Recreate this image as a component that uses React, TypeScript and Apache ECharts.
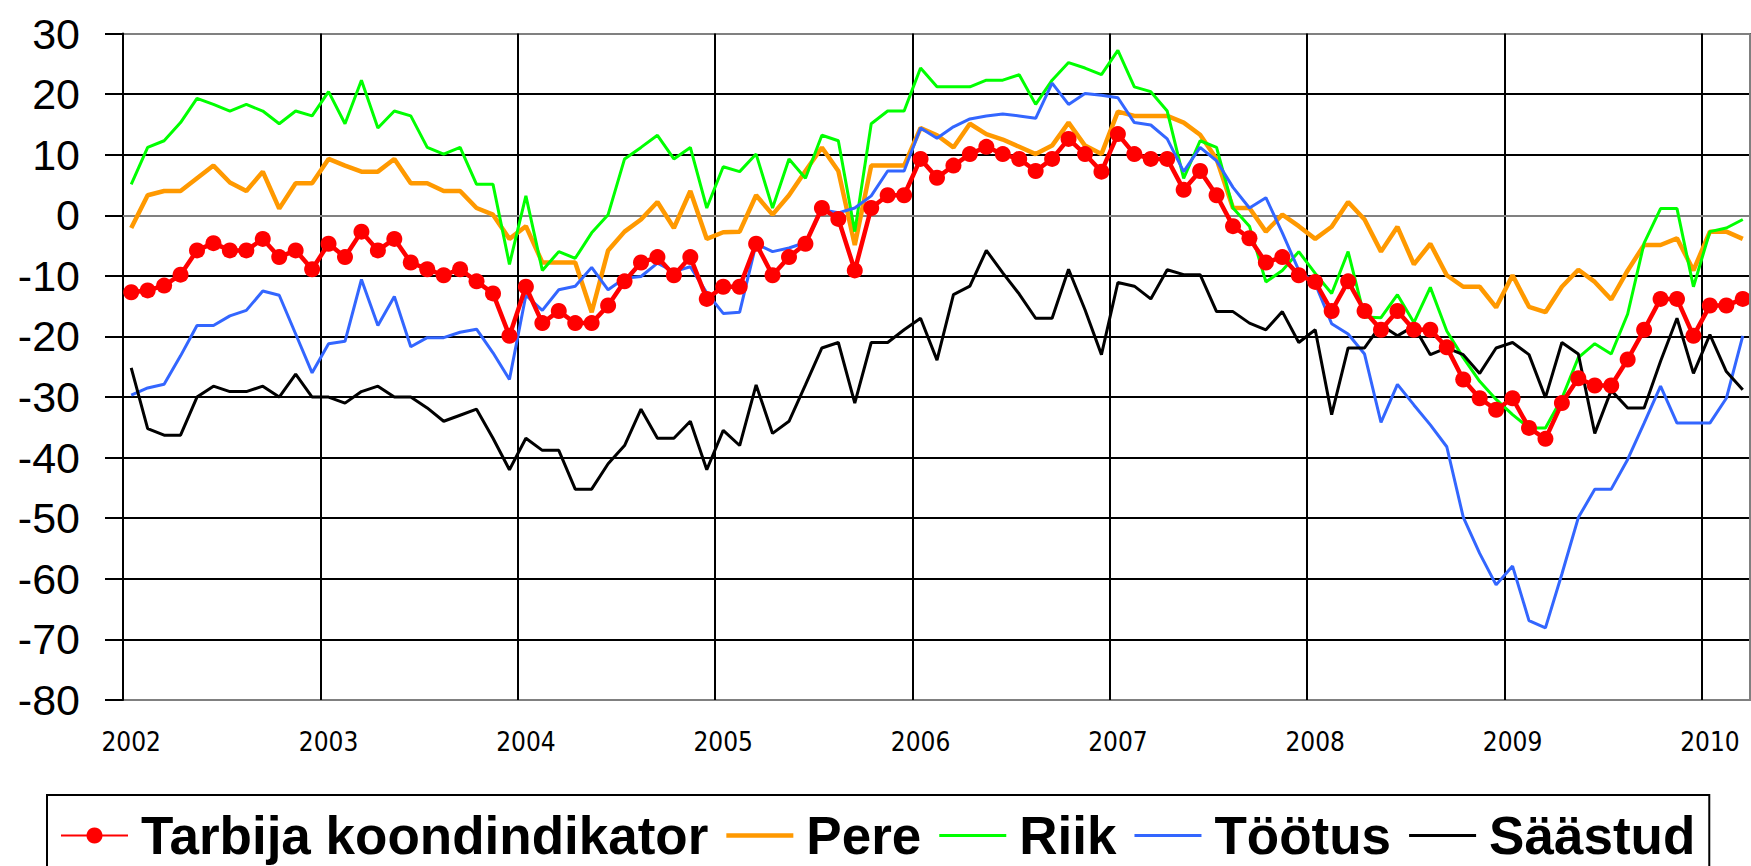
import React, { useEffect, useRef } from "react";
import * as echarts from "echarts";

const years = ["2002", "2003", "2004", "2005", "2006", "2007", "2008", "2009", "2010"];
const monthCount = 99;

const tarbija = [
  -12.7, -12.4, -11.6, -9.8, -5.8, -4.6, -5.8, -5.8, -3.9, -6.9, -5.8, -8.9,
  -4.7, -6.9, -2.7, -5.8, -3.9, -7.8, -8.9, -9.9, -8.9, -10.9, -12.9, -19.9,
  -11.8, -17.8, -15.8, -17.8, -17.8, -14.9, -10.9, -7.8, -6.9, -9.9, -6.9, -13.8,
  -11.8, -11.8, -4.7, -9.9, -6.9, -4.7, 1.2, -0.6, -9.1, 1.2, 3.3, 3.3,
  9.3, 6.2, 8.2, 10.1, 11.3, 10.1, 9.3, 7.3, 9.3, 12.6, 10.1, 7.2,
  13.4, 10.1, 9.3, 9.3, 4.2, 7.3, 3.3, -1.8, -3.8, -7.8, -6.9, -9.9,
  -11.0, -15.8, -10.9, -15.8, -18.9, -15.8, -18.9, -18.9, -21.8, -27.1, -30.2, -32.1,
  -30.2, -35.1, -36.9, -31.0, -26.9, -28.1, -28.1, -23.8, -18.9, -13.8, -13.8, -19.9,
  -14.9, -14.9, -13.8,
];

const pere = [
  -2.1, 3.3, 4.0, 4.0, 6.1, 8.2, 5.4, 4.0, 7.2, 1.1, 5.3, 5.3,
  9.3, 8.2, 7.2, 7.2, 9.3, 5.3, 5.3, 4.0, 4.0, 1.2, 0.1, -3.9,
  -1.8, -7.8, -7.8, -7.8, -16.0, -5.8, -2.7, -0.7, 2.2, -2.1, 4.0, -3.9,
  -2.8, -2.7, 3.3, 0.1, 3.3, 7.3, 11.2, 7.3, -4.9, 8.2, 8.2, 8.2,
  14.4, 13.2, 11.2, 15.1, 13.4, 12.5, 11.3, 10.1, 11.5, 15.3, 11.5, 10.1,
  17.1, 16.4, 16.4, 16.4, 15.3, 13.3, 9.3, 1.2, 1.2, -2.7, 0.1, -1.8,
  -3.9, -1.9, 2.2, -0.7, -6.0, -1.9, -8.1, -4.7, -9.9, -11.8, -11.8, -15.2,
  -9.9, -15.1, -16.0, -11.8, -9.0, -11.0, -13.9, -9.1, -4.9, -4.9, -3.8, -9.1,
  -2.7, -2.7, -3.9,
];

const riik = [
  5.1, 11.2, 12.3, 15.3, 19.3, 18.3, 17.2, 18.3, 17.2, 15.1, 17.2, 16.4,
  20.4, 15.1, 22.3, 14.4, 17.2, 16.4, 11.2, 10.1, 11.2, 5.1, 5.1, -8.1,
  3.2, -9.1, -6.0, -7.1, -2.9, 0.1, 9.3, 11.2, 13.2, 9.3, 11.2, 1.2,
  8.0, 7.2, 10.1, 1.2, 9.3, 6.1, 13.2, 12.3, -2.7, 15.1, 17.2, 17.2,
  24.3, 21.2, 21.2, 21.2, 22.3, 22.3, 23.2, 18.3, 22.3, 25.2, 24.3, 23.2,
  27.2, 21.2, 20.4, 17.2, 6.1, 12.3, 11.2, 1.2, -1.8, -11.0, -9.1, -6.0,
  -9.6, -12.9, -6.0, -16.8, -16.9, -13.1, -17.7, -11.9, -19.1, -23.5, -27.4, -30.4,
  -32.9, -35.1, -35.1, -30.2, -23.5, -21.2, -22.9, -16.3, -4.6, 1.1, 1.1, -11.8,
  -2.7, -2.1, -0.7,
];

const tootus = [
  -29.7, -28.5, -27.9, -23.2, -18.2, -18.2, -16.6, -15.7, -12.5, -13.2, -19.6, -26.0,
  -21.2, -20.8, -10.6, -18.2, -13.4, -21.7, -20.2, -20.2, -19.3, -18.8, -22.7, -27.1,
  -13.2, -15.7, -12.3, -11.7, -8.6, -12.3, -10.4, -10.1, -7.9, -9.3, -8.5, -12.8,
  -16.2, -16.0, -4.7, -6.0, -5.4, -4.5, 0.9, 0.4, 1.2, 3.2, 7.3, 7.3,
  14.4, 12.7, 14.6, 15.9, 16.4, 16.7, 16.4, 16.0, 21.8, 18.3, 20.1, 19.8,
  19.4, 15.3, 14.9, 12.6, 7.2, 11.2, 9.0, 4.6, 1.2, 2.9, -2.9, -9.1,
  -11.3, -17.9, -19.6, -22.9, -34.2, -27.9, -31.3, -34.6, -38.2, -49.8, -55.8, -61.0,
  -57.9, -66.9, -68.1, -59.2, -49.9, -45.2, -45.2, -40.3, -34.3, -28.2, -34.3, -34.3,
  -34.3, -30.2, -19.9,
];

const saastud = [
  -25.2, -35.2, -36.3, -36.3, -30.0, -28.2, -29.1, -29.1, -28.2, -30.0, -26.2, -30.0,
  -30.0, -31.0, -29.1, -28.2, -30.0, -30.0, -31.8, -34.0, -33.0, -32.0, -36.8, -42.0,
  -36.8, -38.8, -38.8, -45.2, -45.2, -41.0, -38.0, -32.0, -36.8, -36.8, -34.0, -42.0,
  -35.5, -38.0, -28.0, -36.0, -34.0, -28.0, -21.9, -21.0, -31.0, -21.0, -21.0, -18.9,
  -17.0, -23.9, -13.1, -11.7, -5.8, -9.5, -13.0, -17.0, -17.0, -8.9, -15.6, -23.0,
  -11.1, -11.7, -13.8, -9.0, -9.8, -9.8, -15.9, -15.9, -17.8, -18.9, -15.9, -21.0,
  -18.9, -32.9, -21.9, -21.9, -18.1, -19.9, -18.3, -23.0, -21.9, -23.0, -26.1, -21.9,
  -21.0, -23.0, -30.1, -21.0, -22.9, -36.0, -28.9, -31.8, -31.8, -24.1, -17.0, -26.1,
  -19.7, -25.8, -28.8,
];

const seriesNames = ["Tarbija koondindikator", "Pere", "Riik", "Töötus", "Säästud"];
const colors = ["#FF0000", "#FF9900", "#00FF00", "#3366FF", "#000000"];

const categories: string[] = [];
years.forEach((y) => {
  for (let m = 1; m <= 12; m++) {
    if (categories.length < monthCount) categories.push(`${y}-${m < 10 ? "0" + m : m}`);
  }
});

const ySplitColors = ["#808080", "#000", "#000", "#000", "#000", "#000", "#000", "#000", "#000", "#000", "#000", "#808080"];

export default function App() {
  const ref = useRef<HTMLDivElement>(null);
  useEffect(() => {
    const chart = echarts.init(ref.current as HTMLDivElement, null, { renderer: "svg" });
    const lineIcon = (h: number) => `path://M0,0L67,0L67,${h}L0,${h}Z`;
    chart.setOption({
      animation: false,
      backgroundColor: "#fff",
      grid: { left: 123, right: 0, top: 33.5, bottom: 166, containLabel: false },
      xAxis: {
        type: "category",
        data: categories,
        boundaryGap: true,
        axisLine: { show: true, lineStyle: { color: "#808080", width: 2 } },
        axisTick: { show: false },
        axisLabel: {
          interval: 11,
          margin: 29,
          color: "#000",
          fontSize: 26,
          fontFamily: "'Liberation Sans Narrow', 'DejaVu Sans Condensed', 'Liberation Sans', sans-serif",
          formatter: (v: string) => v.slice(0, 4),
        },
        splitLine: { show: true, interval: 11, lineStyle: { color: "#000", width: 2 } },
      },
      yAxis: {
        type: "value",
        min: -80,
        max: 30,
        interval: 10,
        axisLine: { show: true, lineStyle: { color: "#000", width: 2 } },
        axisTick: { show: true, inside: false, length: 18, lineStyle: { color: "#000", width: 2 } },
        axisLabel: { color: "#000", fontSize: 43, fontFamily: "'Liberation Sans', Arial, sans-serif", margin: 43 },
        splitLine: { show: true, lineStyle: { color: ySplitColors, width: 2 } },
      },
      legend: {
        left: 47,
        top: 795,
        orient: "horizontal",
        padding: [14, 14, 80, 13],
        borderColor: "#000",
        borderWidth: 2,
        itemWidth: 67,
        itemHeight: 20,
        itemGap: 18,
        textStyle: {
          fontSize: 53,
          fontWeight: "bold",
          color: "#000",
          fontFamily: "'Liberation Sans', Arial, sans-serif",
          padding: [0, 0, 0, 8],
        },
        data: [
          { name: seriesNames[0] },
          { name: seriesNames[1], icon: lineIcon(4.5) },
          { name: seriesNames[2], icon: lineIcon(3) },
          { name: seriesNames[3], icon: lineIcon(3) },
          { name: seriesNames[4], icon: lineIcon(3) },
        ],
      },
      graphic: [
        {
          type: "line",
          shape: { x1: 1750, y1: 33.5, x2: 1750, y2: 700 },
          style: { stroke: "#808080", lineWidth: 2 },
          z: 100,
        },
      ],
      series: [
        {
          name: seriesNames[0],
          type: "line",
          data: tarbija,
          z: 10,
          symbol: "circle",
          symbolSize: 16,
          showSymbol: true,
          showAllSymbol: true,
          itemStyle: { color: colors[0] },
          lineStyle: { color: colors[0], width: 4.5 },
        },
        {
          name: seriesNames[1],
          type: "line",
          data: pere,
          z: 3,
          symbol: "none",
          itemStyle: { color: colors[1] },
          lineStyle: { color: colors[1], width: 4.5 },
        },
        {
          name: seriesNames[2],
          type: "line",
          data: riik,
          z: 4,
          symbol: "none",
          itemStyle: { color: colors[2] },
          lineStyle: { color: colors[2], width: 3 },
        },
        {
          name: seriesNames[3],
          type: "line",
          data: tootus,
          z: 5,
          symbol: "none",
          itemStyle: { color: colors[3] },
          lineStyle: { color: colors[3], width: 3 },
        },
        {
          name: seriesNames[4],
          type: "line",
          data: saastud,
          z: 6,
          symbol: "none",
          itemStyle: { color: colors[4] },
          lineStyle: { color: colors[4], width: 3 },
        },
      ],
    });
    return () => chart.dispose();
  }, []);
  return (
    <div
      ref={ref}
      style={{ position: "absolute", left: 0, top: 0, width: 1751, height: 866, background: "#fff" }}
    />
  );
}
